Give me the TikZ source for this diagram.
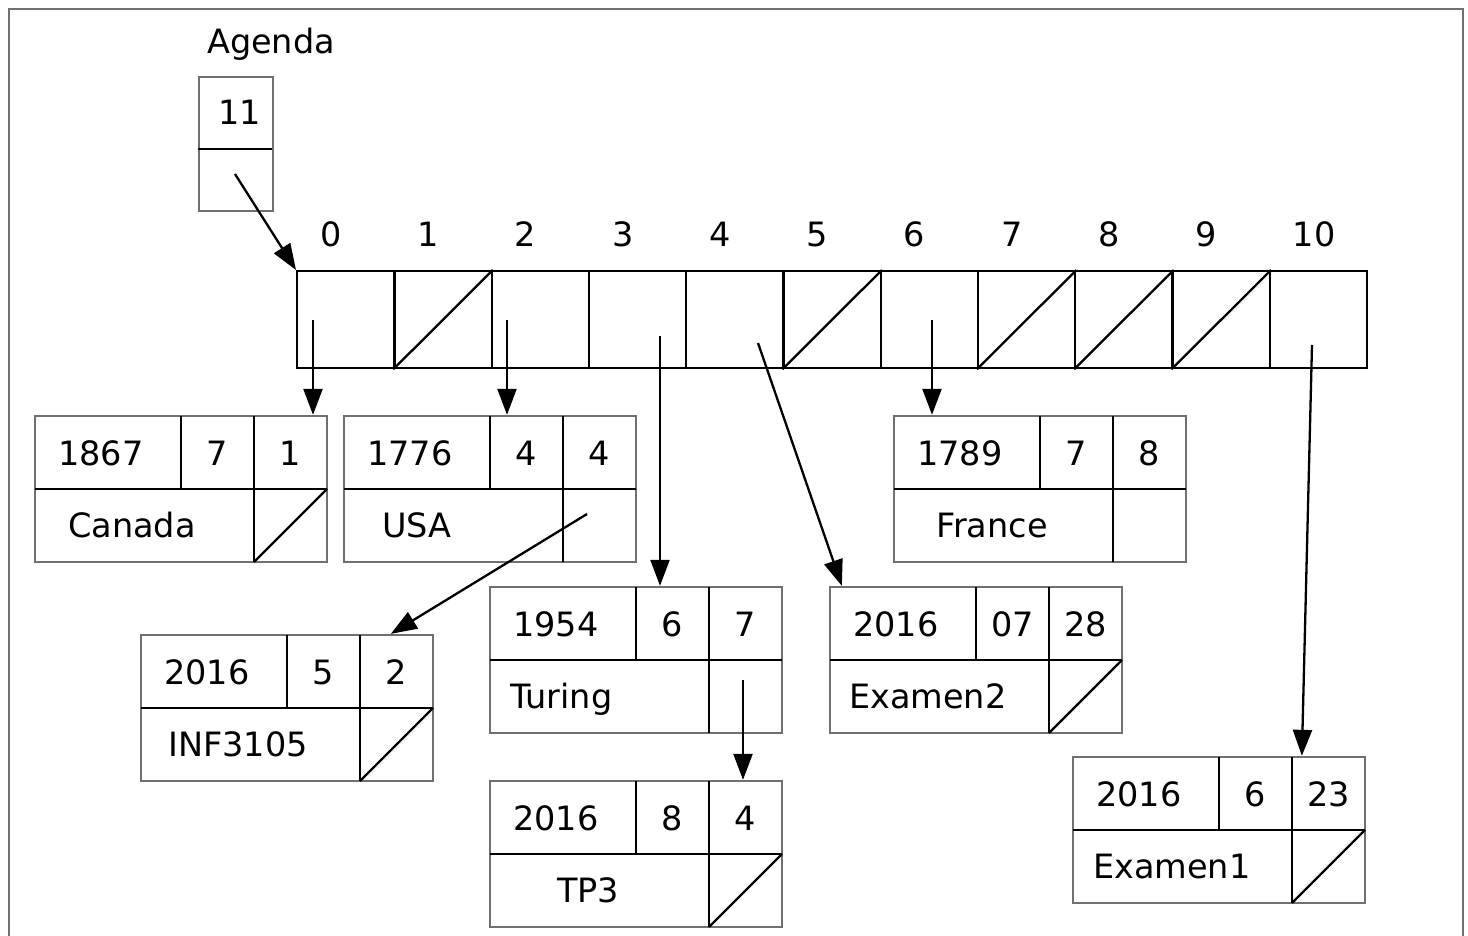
\documentclass[tikz,border=0pt]{standalone}
\usepackage{fontspec}
\setmainfont{DejaVu Sans}
\usetikzlibrary{arrows.meta}
\definecolor{rim}{RGB}{112,112,112}

\newcommand{\nilslash}{\draw[line] (219,146) -- (292,73);}
\newcommand{\rec}[9]{%
  \begin{scope}[shift={(#2,#3)}]
    \node[recbox] (#1) at (146,73) {};
    \draw[line] (0,73) -- (292,73) (146,0) -- (146,73) (219,0) -- (219,146);
    \node[txt, anchor=base west] (#1-y) at (23,49) {#4};
    \node[txt, anchor=base] (#1-m) at (182.5,49) {#5};
    \node[txt, anchor=base] (#1-d) at (255.5,49) {#6};
    \node[txt, anchor=base west] (#1-n) at (#8,121.5) {#7};
    #9
  \end{scope}}

\begin{document}
\begin{tikzpicture}[x=1pt, y=-1pt,
  txt/.style={font=\fontsize{33.5}{40}\selectfont, inner sep=0pt},
  line/.style={line width=2.3pt},
  recbox/.style={rectangle, draw=rim, line width=2.3pt, minimum width=292pt,
                 minimum height=146pt, inner sep=0pt},
  slot/.style={rectangle, draw, line width=2.3pt, minimum width=97.27pt,
               minimum height=97pt, inner sep=0pt, anchor=north west},
  ptr/.style={-{Triangle[length=26pt,width=19pt]}, line width=2.3pt}
]
\useasboundingbox (0,0) rectangle (1468,936);
\draw[rim, line width=2.3pt] (9,9) rectangle (1463,950);

\node[txt, anchor=base] (agtitle) at (271,54) {Agenda};
\node[rectangle, draw=rim, line width=2.3pt, minimum width=74pt, minimum height=134pt,
      inner sep=0pt, anchor=north west] (agenda) at (198,76) {};
\draw[line] (198,149) -- (272,149);
\node[txt, anchor=base] (agsize) at (240,125) {11};
\coordinate (agptr) at (235,174);

\foreach \i in {0,...,10} {
  \node[slot] (c\i) at ({296+97.27*\i},270) {};
  \node[txt, anchor=base west] (i\i) at ({320+97.27*\i},247) {\i};
}
\foreach \i in {1,5,7,8,9}
  \draw[line] (c\i.south west) -- (c\i.north east);

\rec{canada}{35}{416}{1867}{7}{1}{Canada}{33}{\nilslash}
\rec{usa}{344}{416}{1776}{4}{4}{USA}{38}{\coordinate (usa-p) at (243,98);}
\rec{inf3105}{141}{635}{2016}{5}{2}{INF3105}{27}{\nilslash}
\rec{turing}{490}{587}{1954}{6}{7}{Turing}{20}{\coordinate (turing-p) at (253,93);}
\rec{tp3}{490}{781}{2016}{8}{4}{TP3}{67}{\nilslash}
\rec{france}{894}{416}{1789}{7}{8}{France}{42}{}
\rec{examen2}{830}{587}{2016}{07}{28}{Examen2}{19}{\nilslash}
\rec{examen1}{1073}{757}{2016}{6}{23}{Examen1}{20}{\nilslash}

\coordinate (s0) at (313,320);
\coordinate (s2) at (507,320);
\coordinate (s3) at (660,336);
\coordinate (s4) at (758,343);
\coordinate (s6) at (932,320);
\coordinate (s10) at (1312,345);

\draw[ptr] (agptr) -- (c0.north west);
\draw[ptr] (s0) -- (s0 |- canada.north);
\draw[ptr] (s2) -- (s2 |- usa.north);
\draw[ptr] (s3) -- (s3 |- turing.north);
\draw[ptr] (s4) -- ([xshift=13pt]examen2.north west);
\draw[ptr] (s6) -- (s6 |- france.north);
\draw[ptr] (s10) -- ([xshift=230pt]examen1.north west);
\draw[ptr] (usa-p) -- ([xshift=251pt]inf3105.north west);
\draw[ptr] (turing-p) -- (turing-p |- tp3.north);
\end{tikzpicture}
\end{document}
